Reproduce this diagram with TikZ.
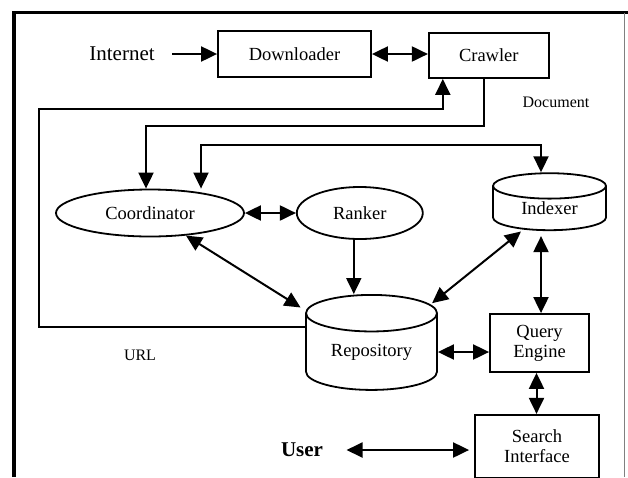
\documentclass[tikz,border=0pt]{standalone}
\usepackage{fontspec}
\setmainfont{Liberation Serif}
\usetikzlibrary{shapes.geometric, arrows.meta, positioning, calc}
\newcommand{\boxfont}{\fontsize{18.5}{20}\selectfont}
\newcommand{\notefont}{\fontsize{16}{18}\selectfont}
\newcommand{\headfont}{\fontsize{21}{23}\selectfont}

\begin{document}
\begin{tikzpicture}[x=1pt, y=-1pt,
        box/.style={rectangle, draw, line width=1.8pt, font=\boxfont, align=center, inner sep=0pt},
        oval/.style={ellipse, draw, line width=1.8pt, font=\boxfont, inner sep=0pt},
        store/.style={cylinder, shape border rotate=90, draw, line width=1.8pt, font=\boxfont, inner sep=0pt, aspect=0.45},
        line/.style={draw, line width=2pt, -{Triangle[length=16pt,width=15pt]}},
        dline/.style={line, {Triangle[length=16pt,width=15pt]}-{Triangle[length=16pt,width=15pt]}}]
        \useasboundingbox (0,0) rectangle (628,477);

        % Marco
        \draw[line width=3.5pt] (14,477) -- (14,12.7) -- (628,12.7);
        \draw[gray, line width=1pt] (624,12.7) -- (624,477);

        % Fila superior
        \node [box, minimum width=153pt, minimum height=46pt] (down) at (294.5,54) {Downloader};
        \node [font=\headfont] (inet) at (122,54) {Internet};
        \node [box, minimum width=120pt, minimum height=45pt, right=56pt of down, yshift=-1.5pt] (crawl) {Crawler};
        \node [font=\notefont] (doc) at (556,102) {Document};

        % Fila central
        \node [oval, minimum width=188pt, minimum height=47pt] (coord) at (150,213) {Coordinator};
        \node [oval, minimum width=126pt, minimum height=52pt, right=51pt of coord] (rank) {Ranker};
        \node [store, minimum width=113pt, minimum height=57pt] (ind) at (549.5,208.5) {Indexer};

        % Fila inferior
        \node [store, minimum width=131pt, minimum height=95pt] (repo) at (371.5,352) {Repository};
        \node [box, minimum width=99pt, minimum height=58pt] (query) at (539.5,343) {Query\\Engine};
        \node [box, minimum width=124pt, minimum height=63pt, below=41pt of query, xshift=-2.5pt] (search) {Search\\Interface};
        \node [font=\headfont\bfseries] (user) at (302,450) {User};
        \node [font=\notefont] (url) at (140,355) {URL};

        \path [line] (inet.east) ++(14pt,0) -- (down.west);
        \path [dline] (down.east) -- (down.east -| crawl.west);
        \path [line] ([xshift=-5pt]crawl.south) -- ++(0,47) -| ([xshift=-4pt]coord.north);
        \path [dline] ([xshift=51pt]coord.north) -- ++(0,-43.5) -| ([xshift=-8.5pt]ind.north);
        \path [line] ([yshift=25pt]repo.west) -| (39,109) -| ([xshift=-46pt]crawl.south);
        \path [dline] (coord) -- (rank);
        \path [dline, shorten >=6pt] (coord) -- (repo);
        \path [line] ([xshift=-6pt]rank.south) -- ([xshift=-6pt]rank.south |- repo.north);
        \path [dline, shorten <=2pt, shorten >=3pt] (repo) -- (ind);
        \path [dline, shorten >=5pt] ([xshift=1.5pt]query.north) -- ([xshift=1.5pt]query.north |- ind.south);
        \path [dline] (repo.east) -- (repo.east -| query.west);
        \path [dline] ([xshift=-3pt]query.south) -- ([xshift=-3pt]query.south |- search.north);
        \path [dline, shorten <=20pt, shorten >=5pt] (user) -- (user -| search.west);
    \end{tikzpicture}
\end{document}
